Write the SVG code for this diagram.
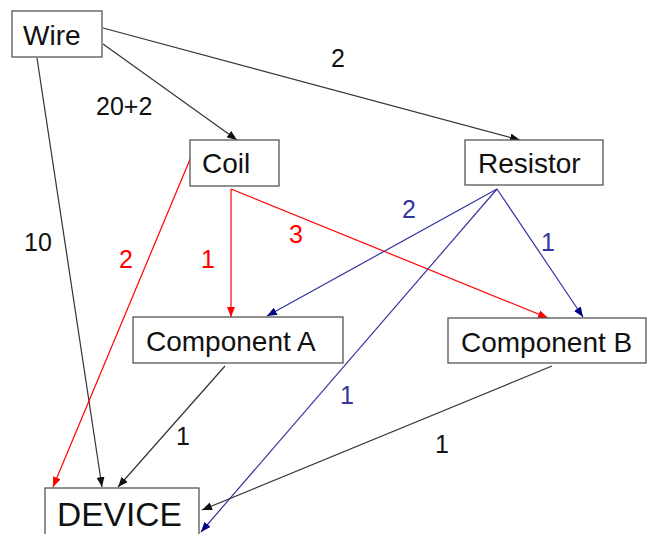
<svg xmlns="http://www.w3.org/2000/svg" width="647" height="534" viewBox="0 0 647 534">
<style>
.box{fill:#fff;stroke:#555;stroke-width:1.3}
.nt{font-family:"Liberation Sans",Arial,sans-serif;font-size:28px;fill:#111}
.lb{font-family:"Liberation Sans",Arial,sans-serif;font-size:25px}
.k{stroke:#333;fill:none;stroke-width:1.2;marker-end:url(#ak)}
.r{stroke:#ff0000;fill:none;stroke-width:1.2;marker-end:url(#ar)}
.b{stroke:#3535a0;fill:none;stroke-width:1.2;marker-end:url(#ab)}
</style>
<defs>
<marker id="ak" markerUnits="userSpaceOnUse" markerWidth="10" markerHeight="8" refX="10" refY="4" orient="auto"><path d="M0,0 L10,4 L0,8 z" fill="#111"/></marker>
<marker id="ar" markerUnits="userSpaceOnUse" markerWidth="10" markerHeight="8" refX="10" refY="4" orient="auto"><path d="M0,0 L10,4 L0,8 z" fill="#ff0000"/></marker>
<marker id="ab" markerUnits="userSpaceOnUse" markerWidth="10" markerHeight="8" refX="10" refY="4" orient="auto"><path d="M0,0 L10,4 L0,8 z" fill="#000080"/></marker>
</defs>
<rect width="647" height="534" fill="#fff"/>
<g id="connectors">
<line class="k" x1="37" y1="58" x2="102" y2="487"/>
<line class="k" x1="103" y1="44" x2="237" y2="140"/>
<line class="k" x1="103" y1="28" x2="520" y2="140"/>
<line class="r" x1="191" y1="157" x2="53" y2="487"/>
<line class="r" x1="231" y1="189" x2="231" y2="317"/>
<line class="r" x1="231" y1="189" x2="548" y2="318"/>
<line class="b" x1="497" y1="189" x2="267" y2="316"/>
<line class="b" x1="497" y1="189" x2="583" y2="317"/>
<line class="b" x1="497" y1="189" x2="201" y2="532"/>
<line class="k" x1="225" y1="366" x2="118" y2="487"/>
<line class="k" x1="552" y1="366" x2="202" y2="510"/>
<text class="lb" x="331" y="67" fill="#111">2</text>
<text class="lb" x="96" y="115" fill="#111">20+2</text>
<text class="lb" x="24" y="251" fill="#111">10</text>
<text class="lb" x="119" y="268" fill="#ff0000">2</text>
<text class="lb" x="201" y="268" fill="#ff0000">1</text>
<text class="lb" x="289" y="243" fill="#ff0000">3</text>
<text class="lb" x="402" y="218" fill="#3535a0">2</text>
<text class="lb" x="541" y="251" fill="#3535a0">1</text>
<text class="lb" x="340" y="404" fill="#3535a0">1</text>
<text class="lb" x="176" y="445" fill="#111">1</text>
<text class="lb" x="435" y="453" fill="#111">1</text>
</g>
<g id="wire"><rect class="box" x="12" y="11" width="90" height="46"/><text class="nt" x="23" y="45">Wire</text></g>
<g id="coil"><rect class="box" x="190" y="140" width="89" height="46"/><text class="nt" x="202" y="173">Coil</text></g>
<g id="resistor"><rect class="box" x="465" y="140" width="138" height="45"/><text class="nt" x="478" y="173">Resistor</text></g>
<g id="componentA"><rect class="box" x="133" y="317" width="210" height="46"/><text class="nt" x="146" y="351">Component A</text></g>
<g id="componentB"><rect class="box" x="448" y="318" width="198" height="45"/><text class="nt" x="461" y="352">Component B</text></g>
<g id="device"><rect class="box" x="45" y="488" width="154" height="60"/><text class="nt" x="57" y="526" style="font-size:33.5px">DEVICE</text></g>
</svg>
